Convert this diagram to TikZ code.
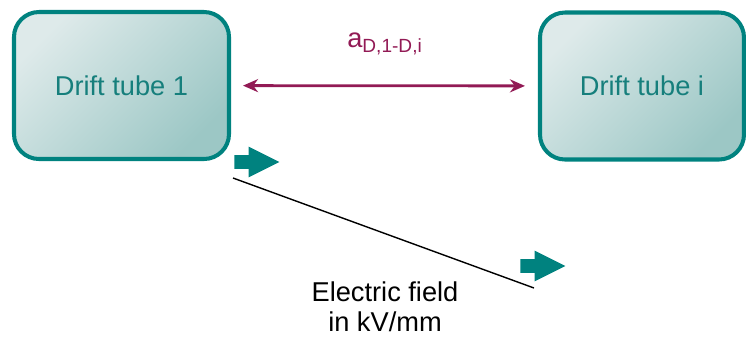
\documentclass[tikz,border=0pt]{standalone}
\usepackage{fontspec}
\setmainfont{Liberation Sans}
\usetikzlibrary{shapes.arrows,arrows.meta}
\definecolor{tubeline}{HTML}{00827F}
\definecolor{tubetext}{HTML}{167F7C}
\definecolor{tubelight}{HTML}{DEEAEA}
\definecolor{tubedark}{HTML}{9CC7C5}
\definecolor{gapcol}{HTML}{921A55}
\tikzset{
  tube/.style={draw=tubeline, line width=2.3pt, rounded corners=0.5cm,
    top color=tubelight, bottom color=tubedark, shading angle=45,
    text=tubetext, font=\fontsize{15.5}{18}\selectfont,
    minimum width=4.3cm, minimum height=2.94cm},
  fieldarrow/.style={single arrow, fill=tubeline, draw=none,
    inner xsep=0pt, inner ysep=0.13cm,
    minimum height=0.9cm, single arrow head extend=0.17cm,
    single arrow tip angle=53, single arrow head indent=0pt},
}
\begin{document}
\begin{tikzpicture}
\useasboundingbox (0,0) rectangle (14.92,-6.74);
\node[tube] (t1) at (2.43,-1.71) {Drift tube 1};
\node[tube, minimum width=4.08cm] (ti) at (12.84,-1.72) {Drift tube i};
\draw[gapcol, line width=1.6pt, {Stealth[length=0.3cm,width=0.26cm]}-{Stealth[length=0.3cm,width=0.26cm]},
  shorten <=0.24cm, shorten >=0.26cm] (t1) -- (ti);
\node[text=gapcol, font=\fontsize{15.5}{18}\selectfont] (gap) at (7.7,-0.88) {a\textsubscript{D,1-D,i}};
% field lines
\node[fieldarrow] (e1) at (5.0,-3.24) {};
\node[fieldarrow] (e2) at (10.72,-5.32) {};
\coordinate (f1) at (4.66,-3.56);
\coordinate (f2) at (10.68,-5.76);
\draw[line width=0.8pt] (f1) -- (f2);
\node[align=center, font=\fontsize{15.5}{17}\selectfont] (field) at (7.7,-6.14) {Electric field\\in kV/mm};
\end{tikzpicture}
\end{document}
